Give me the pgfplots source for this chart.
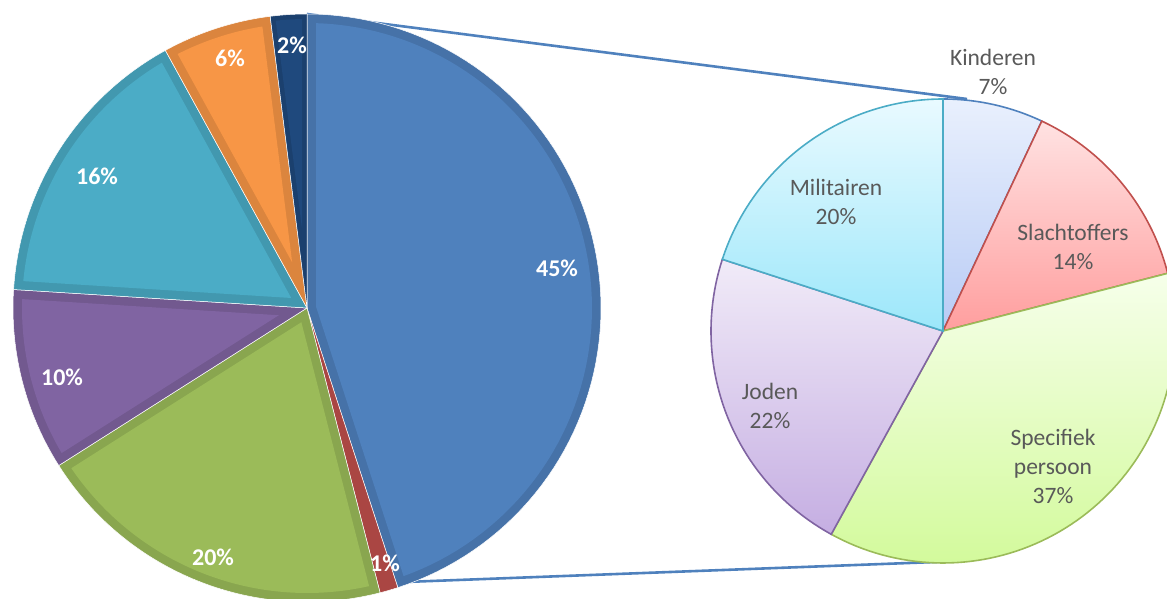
\documentclass[border=0pt]{standalone}
\usepackage{pgfplots}
\pgfplotsset{compat=1.18}
\usepackage{fontspec}
\setmainfont{Carlito}
\definecolor{cBlue}{HTML}{4F81BD}\definecolor{dBlue}{HTML}{4672A8}
\definecolor{cRed}{HTML}{C0504D}\definecolor{dRed}{HTML}{AA4643}
\definecolor{cGreen}{HTML}{9BBB59}\definecolor{dGreen}{HTML}{89A64F}
\definecolor{cPurple}{HTML}{8064A2}\definecolor{dPurple}{HTML}{72598F}
\definecolor{cTeal}{HTML}{4BACC6}\definecolor{dTeal}{HTML}{4298AF}
\definecolor{cOrange}{HTML}{F79646}\definecolor{dOrange}{HTML}{DB853E}
\definecolor{cNavy}{HTML}{1F497D}\definecolor{dNavy}{HTML}{1B406E}
\definecolor{kinT}{HTML}{E9F0FD}\definecolor{kinB}{HTML}{B8CBF5}
\definecolor{slaT}{HTML}{FFE2E2}\definecolor{slaB}{HTML}{FF9E9E}
\definecolor{speT}{HTML}{F6FFEA}\definecolor{speB}{HTML}{D3FA9C}
\definecolor{jodT}{HTML}{F1EBF8}\definecolor{jodB}{HTML}{C5AEE2}
\definecolor{milT}{HTML}{E9FAFF}\definecolor{milB}{HTML}{9CE7FA}
\definecolor{lblGray}{HTML}{595959}
% full slice: cx, cy, r, start %, end %, options
\newcommand{\slice}[6]{%
  \addplot[#6, domain={90-3.6*(#5)}:{90-3.6*(#4)}, samples=80]
    ({#1+#3*cos(x)},{#2+#3*sin(x)}) -- (axis cs:#1,#2) -- cycle;}
% inset slice: cx, cy, r, start %, end %, inset, options
\newcommand{\inset}[7]{%
  \addplot[#7, domain={90-3.6*(#5)+asin(#6/(#3-#6))}:{90-3.6*(#4)-asin(#6/(#3-#6))}, samples=80]
    ({#1+(#3-#6)*cos(x)},{#2+(#3-#6)*sin(x)})
    -- (axis cs:{#1+#6/sin(1.8*(#5-#4))*cos(90-1.8*(#5+#4))},{#2+#6/sin(1.8*(#5-#4))*sin(90-1.8*(#5+#4))}) -- cycle;}
\begin{document}
\begin{tikzpicture}
\useasboundingbox (0,0) rectangle (1167pt,599pt);
\begin{axis}[at={(0,0)}, anchor=south west, width=1167pt, height=599pt, scale only axis,
  xmin=0, xmax=1167, ymin=0, ymax=599, hide axis, clip=true]
% connector lines
\addplot[cBlue, line width=2.6pt] coordinates {(307,585) (967,500)};
\addplot[cBlue, line width=2.6pt] coordinates {(405,17) (962,38)};
% left pie: 45, 1, 20, 10, 16, 6, 2
\slice{307}{291}{294}{0}{45}{fill=dBlue, draw=white, line width=0.5pt}
\slice{307}{291}{294}{45}{46}{fill=dRed, draw=white, line width=0.5pt}
\slice{307}{291}{294}{46}{66}{fill=dGreen, draw=white, line width=0.5pt}
\slice{307}{291}{294}{66}{76}{fill=dPurple, draw=white, line width=0.5pt}
\slice{307}{291}{294}{76}{92}{fill=dTeal, draw=white, line width=0.5pt}
\slice{307}{291}{294}{92}{98}{fill=dOrange, draw=white, line width=0.5pt}
\slice{307}{291}{294}{98}{100}{fill=dNavy, draw=white, line width=0.5pt}
\inset{307}{291}{294}{0}{45}{9}{fill=cBlue, draw=none}
\inset{307}{291}{294}{46}{66}{9}{fill=cGreen, draw=none}
\inset{307}{291}{294}{66}{76}{9}{fill=cPurple, draw=none}
\inset{307}{291}{294}{76}{92}{9}{fill=cTeal, draw=none}
\inset{307}{291}{294}{92}{98}{9}{fill=cOrange, draw=none}
\inset{307}{291}{294}{98}{100}{5}{fill=cNavy, draw=none}
% right pie: 7, 14, 37, 22, 20
\slice{943}{268}{232}{0}{7}{draw=cBlue, line width=1.6pt, top color=kinT, bottom color=kinB}
\slice{943}{268}{232}{7}{21}{draw=cRed, line width=1.6pt, top color=slaT, bottom color=slaB}
\slice{943}{268}{232}{21}{58}{draw=cGreen, line width=1.6pt, top color=speT, bottom color=speB}
\slice{943}{268}{232}{58}{80}{draw=cPurple, line width=1.6pt, top color=jodT, bottom color=jodB}
\slice{943}{268}{232}{80}{100}{draw=cTeal, line width=1.6pt, top color=milT, bottom color=milB}
% labels
\begin{scope}[every node/.style={font=\fontsize{24}{28}\selectfont\bfseries, text=white}]
\node at (axis cs:557,331) {45\%};
\node at (axis cs:385,36) {1\%};
\node at (axis cs:213,42) {20\%};
\node at (axis cs:62,222) {10\%};
\node at (axis cs:97,423) {16\%};
\node at (axis cs:230,541) {6\%};
\node at (axis cs:292,554) {2\%};
\end{scope}
\begin{scope}[every node/.style={font=\fontsize{23.5}{29}\selectfont, text=lblGray, align=center}]
\node at (axis cs:993,527) {Kinderen\\7\%};
\node at (axis cs:1073,352) {Slachtoffers\\14\%};
\node at (axis cs:1053,133) {Specifiek\\persoon\\37\%};
\node at (axis cs:770,193) {Joden\\22\%};
\node at (axis cs:836,397) {Militairen\\20\%};
\end{scope}
\end{axis}
\end{tikzpicture}
\end{document}
